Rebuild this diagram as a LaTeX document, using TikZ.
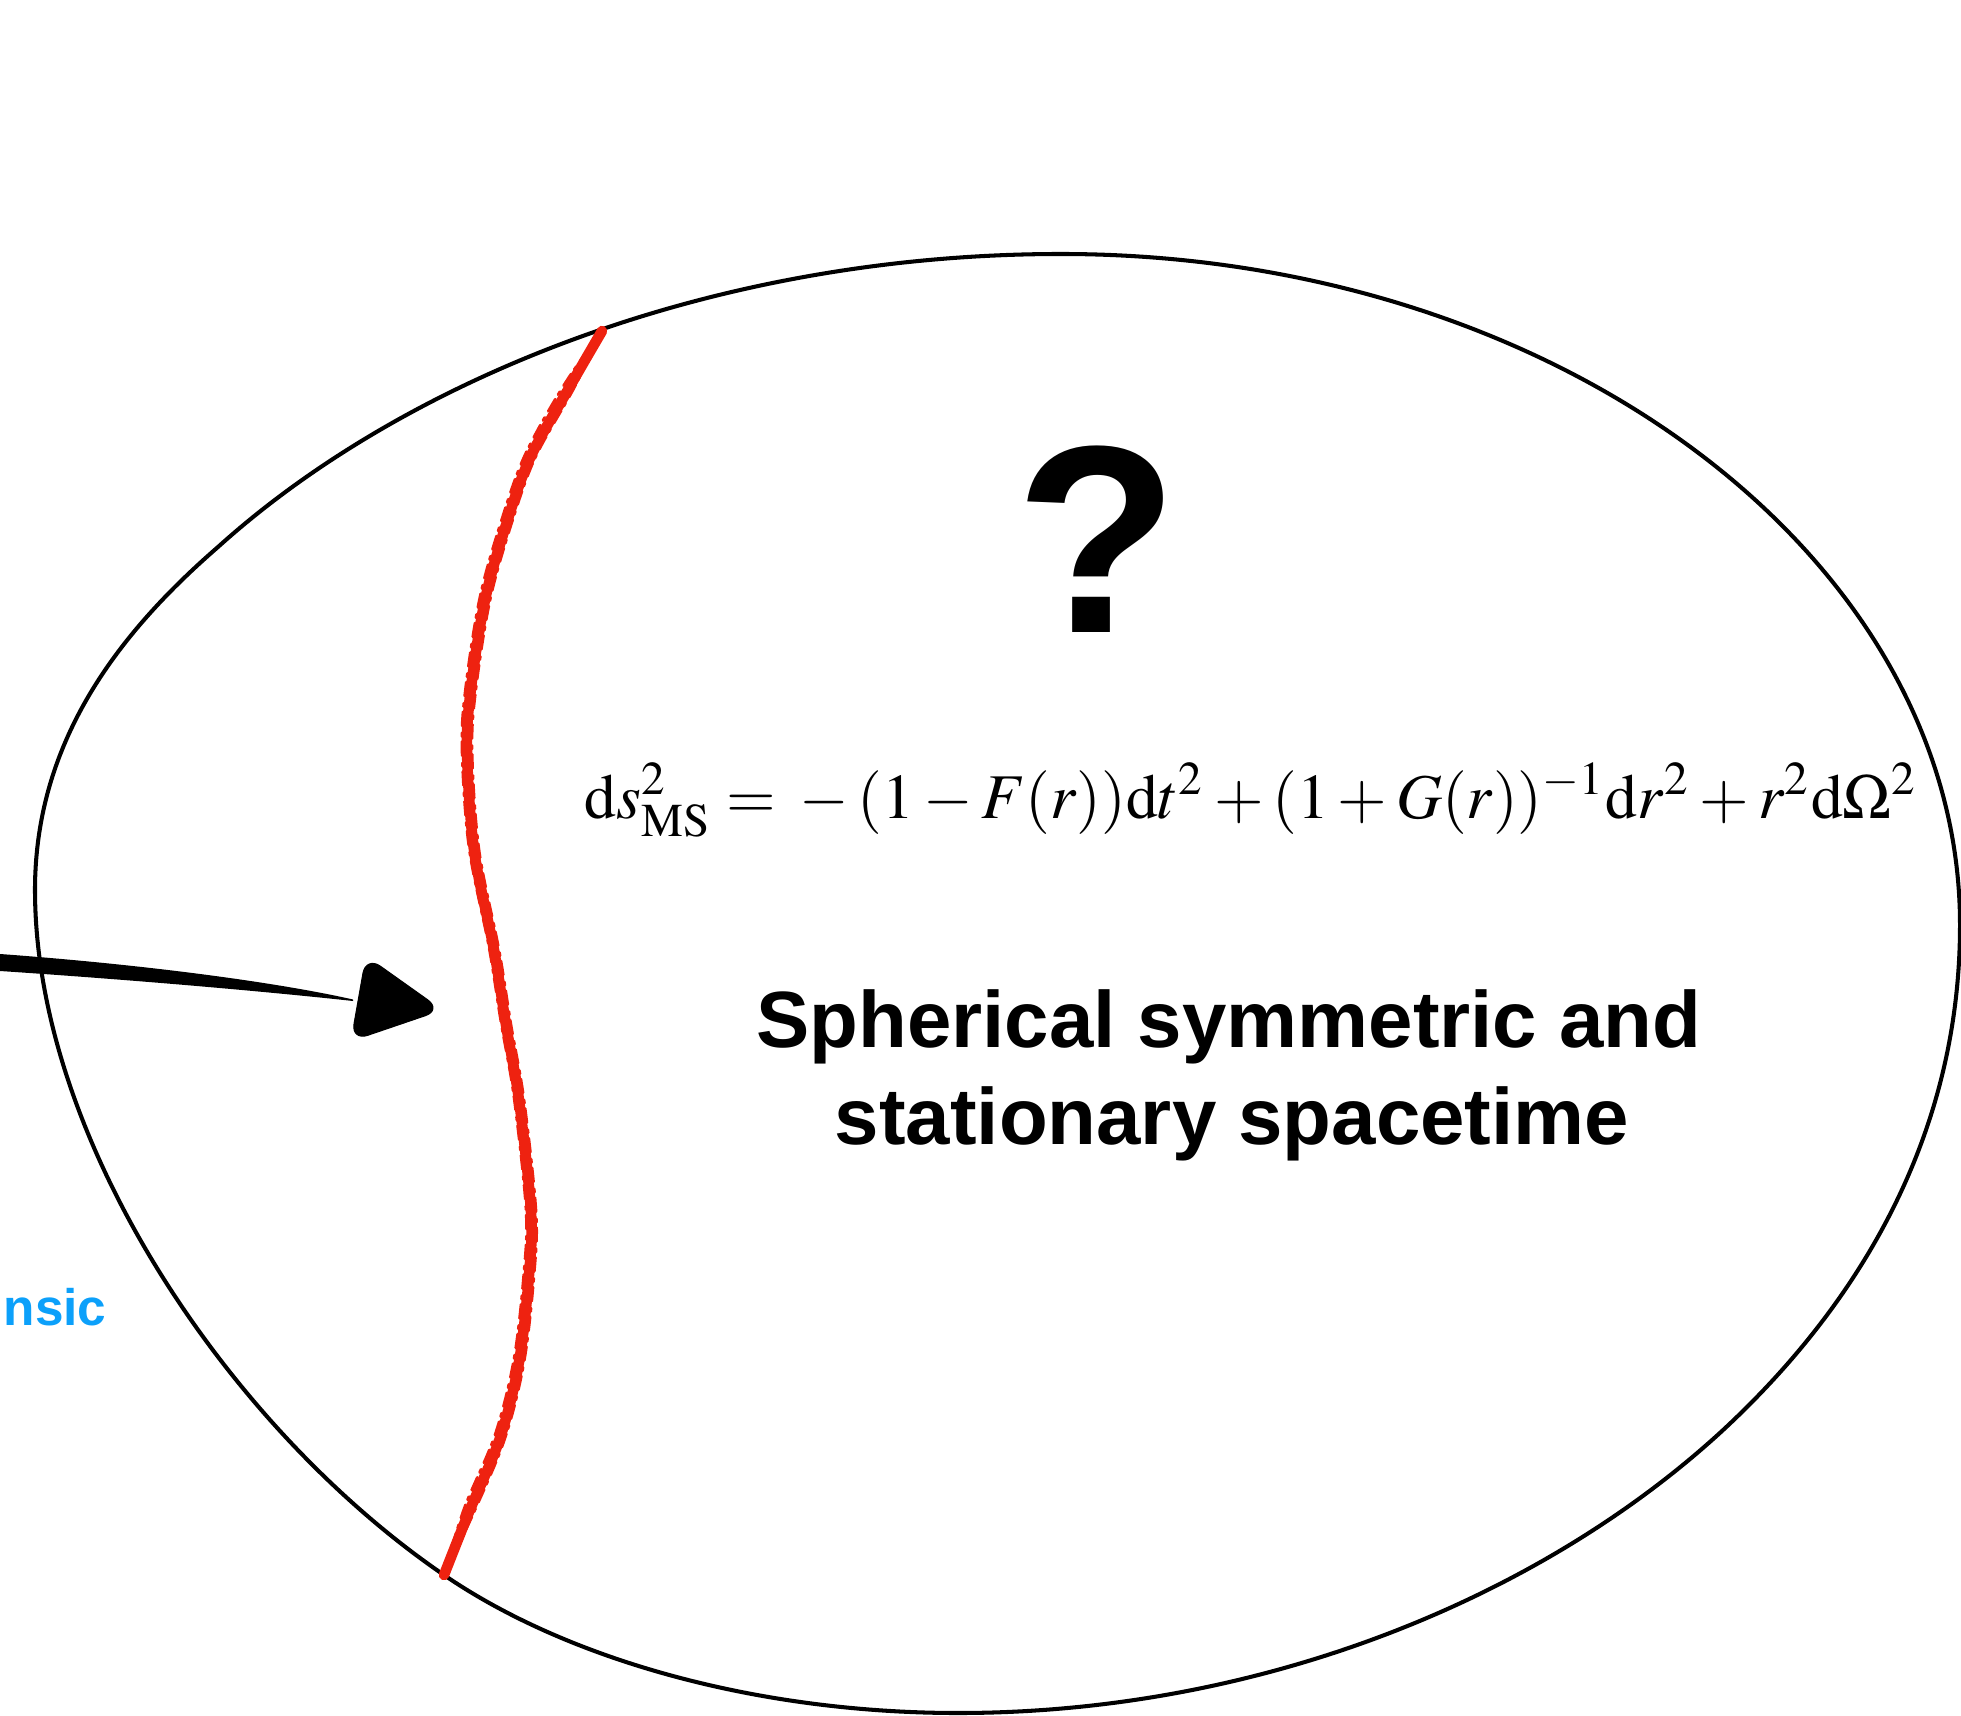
\documentclass[tikz,border=0pt]{standalone}
\usepackage{mathptmx}
\usepackage[no-math]{fontspec}
\setmainfont{Liberation Sans}
\usepackage{graphicx}
\definecolor{crayon}{RGB}{238,34,16}
\definecolor{skyblue}{RGB}{12,160,250}
\begin{document}
\begin{tikzpicture}[x=0.01cm,y=-0.01cm,
  outline/.style={line width=1.15pt, line join=round},
  redline/.style={draw=crayon, line width=3.0pt, line cap=round, line join=round},
  redrough/.style={draw=crayon, line width=0.8pt, line cap=round, dash pattern=on 4pt off 2pt on 1pt off 1.5pt},
  arrowink/.style={fill=black, draw=black, line width=0.3pt},
  qmark/.style={inner sep=0pt, anchor=base, font=\fontsize{76}{80}\selectfont\bfseries},
  bigtext/.style={inner sep=0pt, anchor=base, font=\fontsize{22.7}{27}\selectfont\bfseries},
  formula/.style={inner sep=0pt, anchor=base west},
  sidelabel/.style={inner sep=0pt, anchor=base west, text=skyblue, font=\fontsize{14.6}{18}\selectfont\bfseries}]
\useasboundingbox (0,0) rectangle (1961,1716);

% blob outline
\coordinate (btop) at (1061,254);
\coordinate (bright) at (1960,925);
\coordinate (brlow) at (1722,1431);
\coordinate (bbot) at (958,1713);
\coordinate (bblow) at (444,1575);
\coordinate (bleft) at (35,890);
\coordinate (bkink) at (218,547);
\draw[outline] (btop)
  .. controls (1561,254) and (1960,560) .. (bright)
  .. controls (1960,1125) and (1869,1295) .. (brlow)
  .. controls (1538,1600) and (1258,1713) .. (bbot)
  .. controls (758,1713) and (568,1660) .. (bblow)
  .. controls (229,1428) and (35,1140) .. (bleft)
  .. controls (35,740) and (120,632) .. (bkink)
  .. controls (403,380) and (711,254) .. (btop) -- cycle;

% red boundary (crayon)
\coordinate (rtop) at (602,331);
\coordinate (rbot) at (444,1575);
\def\redpath{plot[smooth, tension=0.55] coordinates {
 (rtop) (569,388) (530,458) (506,525) (485,600) (471,688) (467,750)
 (474,850) (494,950) (506,1025) (519,1100) (531,1212) (529,1275)
 (519,1362) (500,1438) (469,1512) (rbot)}}
\draw[redline] \redpath;
\begin{scope}[xshift=0.05cm]
\draw[redrough] \redpath;
\end{scope}
\begin{scope}[xshift=-0.05cm, yshift=0.03cm]
\draw[redrough, dash phase=2pt] \redpath;
\end{scope}

% arrow
\coordinate (atail) at (0,963);
\coordinate (atip) at (442,1010);
\fill[black] (0,954) .. controls (150,965) and (280,983) .. (353,999.5)
  -- (353,1001) .. controls (280,993) and (150,981) .. (0,971) -- cycle;
\filldraw[arrowink, rounded corners=5] (366,956) -- (atip) -- (351,1041) -- cycle;

% texts
\node[qmark] (q) at (1097,633) {?};
\node[formula] (eq) at (584,818) {\resizebox{13.33cm}{!}{$\mathrm{d}s^2_{\mathrm{MS}} ={}-{}(1-F(r))\mathrm{d}t^2+(1+G(r))^{-1}\mathrm{d}r^2+r^2\mathrm{d}\Omega^2$}};
\node[bigtext] (l1) at (1229,1047) {Spherical symmetric and};
\node[bigtext] (l2) at (1232,1144) {stationary spacetime};
\node[sidelabel] (ns) at (3,1325) {nsic};
\end{tikzpicture}
\end{document}
